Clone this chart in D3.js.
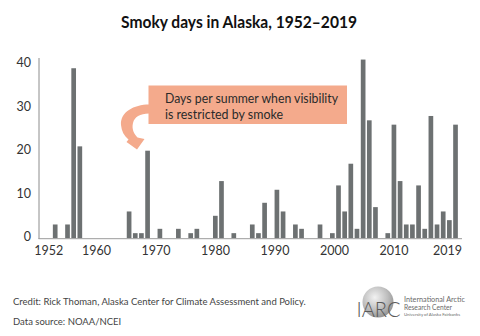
<!DOCTYPE html>
<html><head><meta charset="utf-8">
<script src="https://cdn.jsdelivr.net/npm/d3@7"></script>
<style>
body{margin:0;background:#fff;}
svg{display:block;font-family:Lato, "Open Sans", sans-serif;}
</style></head>
<body>
<svg id="c" width="480" height="336"></svg>
<script>
// ---- data ----
const years = d3.range(1952, 2020);
const smokyDays = [
 0,0,3,0,3,39,21,0,0,0,   // 1952-1961
 0,0,0,0,6,1,1,20,0,2,    // 1962-1971
 0,0,2,0,1,2,0,0,5,13,    // 1972-1981
 0,1,0,0,3,1,8,0,11,6,    // 1982-1991
 0,3,2,0,0,3,0,1,12,6,    // 1992-2001
 17,2,41,27,7,0,1,26,13,3, // 2002-2011
 3,12,2,28,3,6,4,26       // 2012-2019
];
const yTicks = [0, 10, 20, 30, 40];
const xTickYears = [1952, 1960, 1970, 1980, 1990, 2000, 2010, 2019];
const title = "Smoky days in Alaska, 1952\u20132019";
const noteLines = ["Days per summer when visibility", "is restricted by smoke"];
const credits = ["Credit: Rick Thoman, Alaska Center for Climate Assessment and Policy.", "Data source: NOAA/NCEI"];
const logoLines = ["International Arctic", "Research Center", "University of Alaska Fairbanks"];

const svg = d3.select("#c");
const x = d3.scaleBand().domain(years).range([39.8, 458.6]).paddingInner(0.24).paddingOuter(0.12);
const y = d3.scaleLinear().domain([0, 40]).range([237.5, 63.9]);
const xLab = d3.scaleLinear().domain([1952, 2019]).range([48.3, 447]);

// title
svg.append("text").attr("x", 239).attr("y", 27.5).attr("text-anchor", "middle")
  .attr("font-size", 17).attr("font-weight", 700).attr("fill", "#111")
  .attr("textLength", 236).attr("lengthAdjust", "spacingAndGlyphs").text(title);

// bars
const data = years.map((yr, i) => ({year: yr, v: smokyDays[i]})).filter(d => d.v > 0);
svg.append("g").selectAll("rect").data(data).join("rect")
  .attr("x", d => x(d.year)).attr("width", x.bandwidth())
  .attr("y", d => y(d.v)).attr("height", d => 238.2 - y(d.v))
  .attr("fill", "#6d7172");

// axes lines
svg.append("line").attr("x1", 39).attr("x2", 39).attr("y1", 58).attr("y2", 239)
  .attr("stroke", "#8c8c8c").attr("stroke-width", 1);
svg.append("line").attr("x1", 38.5).attr("x2", 462).attr("y1", 238.7).attr("y2", 238.7)
  .attr("stroke", "#9a9a9a").attr("stroke-width", 1);

// y axis labels
const yAxis = d3.axisLeft(y).tickValues(yTicks).tickSize(0).tickPadding(0);
const gy = svg.append("g").attr("transform", "translate(31,-1)").call(yAxis);
gy.select(".domain").remove();
gy.selectAll("text").attr("font-size", 12.5).attr("fill", "#333").attr("font-family", "Lato");

// x axis labels
const xAxis = d3.axisBottom(xLab).tickValues(xTickYears).tickSize(0).tickPadding(0).tickFormat(d3.format("d"));
const gx = svg.append("g").attr("transform", "translate(0,246)").call(xAxis);
gx.select(".domain").remove();
gx.selectAll("text").attr("font-size", 12.5).attr("fill", "#333").attr("font-family", "Lato");

// annotation box + arrow
const salmon = "#f4aa8c";
svg.append("rect").attr("x", 148.5).attr("y", 85.5).attr("width", 198.5).attr("height", 38.5).attr("fill", salmon);
svg.append("path").attr("fill", salmon)
  .attr("d", "M149,104.5 C134,104.5 120,112 121,125 C121.5,131 124,136 128.5,139.5 L126.5,142 L137,149.5 L144.5,139 L137.5,137.5 C134,134 131.5,129 133,123 C134.5,117 140,113.5 149,113.5 Z");
svg.append("g").selectAll("text").data(noteLines).join("text")
  .attr("x", 165).attr("y", (d, i) => 102.7 + i * 16)
  .attr("font-size", 13).attr("fill", "#2a2a2a")
  .attr("textLength", (d, i) => i === 0 ? 173 : 118).attr("lengthAdjust", "spacingAndGlyphs")
  .text(d => d);

// credits
svg.append("g").selectAll("text").data(credits).join("text")
  .attr("x", 13).attr("y", (d, i) => 304.5 + i * 20.5)
  .attr("font-size", 9.5).attr("fill", "#444").text(d => d);

// logo
const defs = svg.append("defs");
const rg = defs.append("radialGradient").attr("id", "globe").attr("cx", "40%").attr("cy", "35%").attr("r", "70%");
rg.append("stop").attr("offset", "0%").attr("stop-color", "#f2f2f2");
rg.append("stop").attr("offset", "60%").attr("stop-color", "#bdbdbd");
rg.append("stop").attr("offset", "100%").attr("stop-color", "#8f8f8f");
svg.append("circle").attr("cx", 378).attr("cy", 302).attr("r", 15.5).attr("fill", "url(#globe)");
svg.append("text").attr("x", 356.5).attr("y", 317).attr("font-size", 21).attr("font-weight", 300)
  .attr("fill", "#5a5a5a").attr("textLength", 44).attr("lengthAdjust", "spacingAndGlyphs")
  .attr("font-family", "Lato").text("IARC");
const logoSizes = [6.6, 6.6, 4];
const logoY = [301.5, 309.5, 315.5];
const logoW = [61, 48, 56];
svg.append("g").selectAll("text").data(logoLines).join("text")
  .attr("x", 404).attr("y", (d, i) => logoY[i]).attr("font-size", (d, i) => logoSizes[i]).attr("fill", "#6a6a6a")
  .attr("textLength", (d, i) => logoW[i]).attr("lengthAdjust", "spacingAndGlyphs").text(d => d);
</script>
</body></html>
